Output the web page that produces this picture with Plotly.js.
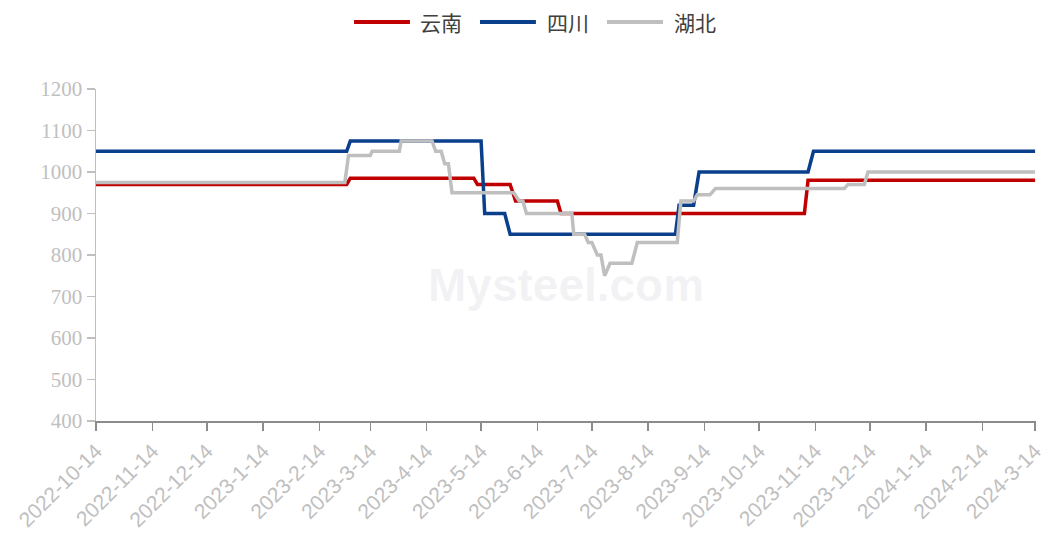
<!DOCTYPE html>
<html>
<head>
<meta charset="utf-8">
<script src="https://cdn.plot.ly/plotly-3.0.1.min.js"></script>
<style>
html,body{margin:0;padding:0;background:#fff;}
#chart{width:1045px;height:539px;}
</style>
</head>
<body>
<div id="chart"></div>
<script>
// 云南
const yunnanDates = ["2022-10-14","2023-03-01","2023-03-03","2023-05-10","2023-05-12","2023-05-30","2023-06-02","2023-06-25","2023-06-27","2023-11-08","2023-11-10","2024-03-14"];
const yunnanValues = [970,970,985,985,970,970,930,930,900,900,980,980];
// 四川
const sichuanDates = ["2022-10-14","2023-03-01","2023-03-03","2023-05-14","2023-05-16","2023-05-27","2023-05-30","2023-08-29","2023-08-31","2023-09-08","2023-09-11","2023-11-10","2023-11-13","2024-03-14"];
const sichuanValues = [1050,1050,1075,1075,900,900,850,850,920,920,1000,1000,1050,1050];
// 湖北
const hubeiDates = ["2022-10-14","2023-02-28","2023-03-02","2023-03-14","2023-03-15","2023-03-30","2023-03-31","2023-04-17","2023-04-19","2023-04-22","2023-04-24","2023-04-26","2023-04-28","2023-06-01","2023-06-04","2023-06-06","2023-06-08","2023-07-03","2023-07-04","2023-07-10","2023-07-12","2023-07-14","2023-07-17","2023-07-19","2023-07-21","2023-07-24","2023-08-05","2023-08-08","2023-08-30","2023-09-01","2023-09-08","2023-09-10","2023-09-17","2023-09-20","2023-11-30","2023-12-02","2023-12-11","2023-12-13","2024-03-14"];
const hubeiValues = [975,975,1040,1040,1050,1050,1075,1075,1050,1050,1020,1020,950,950,930,930,900,900,850,850,830,830,800,800,750,780,780,830,830,930,930,945,945,960,960,970,970,1000,1000];

const seriesNames = ["云南","四川","湖北"];
const seriesColors = ["#c00000","#0a3f8c","#bfbfbf"];

const tickDates = ["2022-10-14","2022-11-14","2022-12-14","2023-01-14","2023-02-14","2023-03-14","2023-04-14","2023-05-14","2023-06-14","2023-07-14","2023-08-14","2023-09-14","2023-10-14","2023-11-14","2023-12-14","2024-01-14","2024-02-14","2024-03-14"];
const tickLabels = ["2022-10-14","2022-11-14","2022-12-14","2023-1-14","2023-2-14","2023-3-14","2023-4-14","2023-5-14","2023-6-14","2023-7-14","2023-8-14","2023-9-14","2023-10-14","2023-11-14","2023-12-14","2024-1-14","2024-2-14","2024-3-14"];
const yTicks = [400,500,600,700,800,900,1000,1100,1200];

const seriesX = [yunnanDates, sichuanDates, hubeiDates];
const seriesY = [yunnanValues, sichuanValues, hubeiValues];

const traces = seriesNames.map((n, i) => ({
  x: seriesX[i], y: seriesY[i], name: n, type: "scatter", mode: "lines",
  line: {color: seriesColors[i], width: 3.5}, showlegend: false
}));

// manual legend (longer line samples as in the reference)
const legendLineStart = [0.2745, 0.4085, 0.5436];
const legendLineEnd = [0.334, 0.468, 0.6032];
const legendTextX = [0.3426, 0.4777, 0.6128];
const legendY = 1.202;

const shapes = seriesNames.map((n, i) => ({
  type: "line", xref: "paper", yref: "paper",
  x0: legendLineStart[i], x1: legendLineEnd[i], y0: legendY, y1: legendY,
  line: {color: seriesColors[i], width: 4}
}));

const annotations = seriesNames.map((n, i) => ({
  text: n, xref: "paper", yref: "paper", x: legendTextX[i], y: legendY,
  xanchor: "left", yanchor: "middle", showarrow: false,
  font: {family: "Noto Sans CJK SC", size: 21, color: "#404040"}
}));
annotations.push({text: "Mysteel.com", xref: "paper", yref: "paper", x: 0.5, y: 0.41, showarrow: false,
  font: {family: "Liberation Sans, Arial, sans-serif", size: 46, color: "rgba(200,200,210,0.22)", weight: "bold"}});

const layout = {
  width: 1045, height: 539,
  margin: {l: 96, r: 9, t: 89, b: 118},
  paper_bgcolor: "#fff", plot_bgcolor: "#fff",
  showlegend: false,
  xaxis: {
    type: "date", range: ["2022-10-14", "2024-03-14 12:00"],
    tickvals: tickDates, ticktext: tickLabels, tickangle: -45,
    ticklabeloverflow: "allow",
    tickfont: {family: "Liberation Sans, Arial, sans-serif", size: 21, color: "#c0c0c0"},
    showline: true, linecolor: "#8c8c8c", linewidth: 1.5,
    ticks: "outside", ticklen: 8, tickcolor: "#8c8c8c", tickwidth: 1.5,
    showgrid: false, zeroline: false, fixedrange: true
  },
  yaxis: {
    range: [400, 1200], tickvals: yTicks,
    tickfont: {family: "Liberation Serif, Times New Roman, serif", size: 21, color: "#c0c0c0"},
    showline: true, linecolor: "#bfbfbf", linewidth: 1.5,
    ticks: "outside", ticklen: 8, tickcolor: "#bfbfbf", tickwidth: 1.5,
    showgrid: false, zeroline: false, fixedrange: true
  },
  shapes: shapes,
  annotations: annotations
};

Plotly.newPlot("chart", traces, layout, {displayModeBar: false, staticPlot: true});
</script>
</body>
</html>
